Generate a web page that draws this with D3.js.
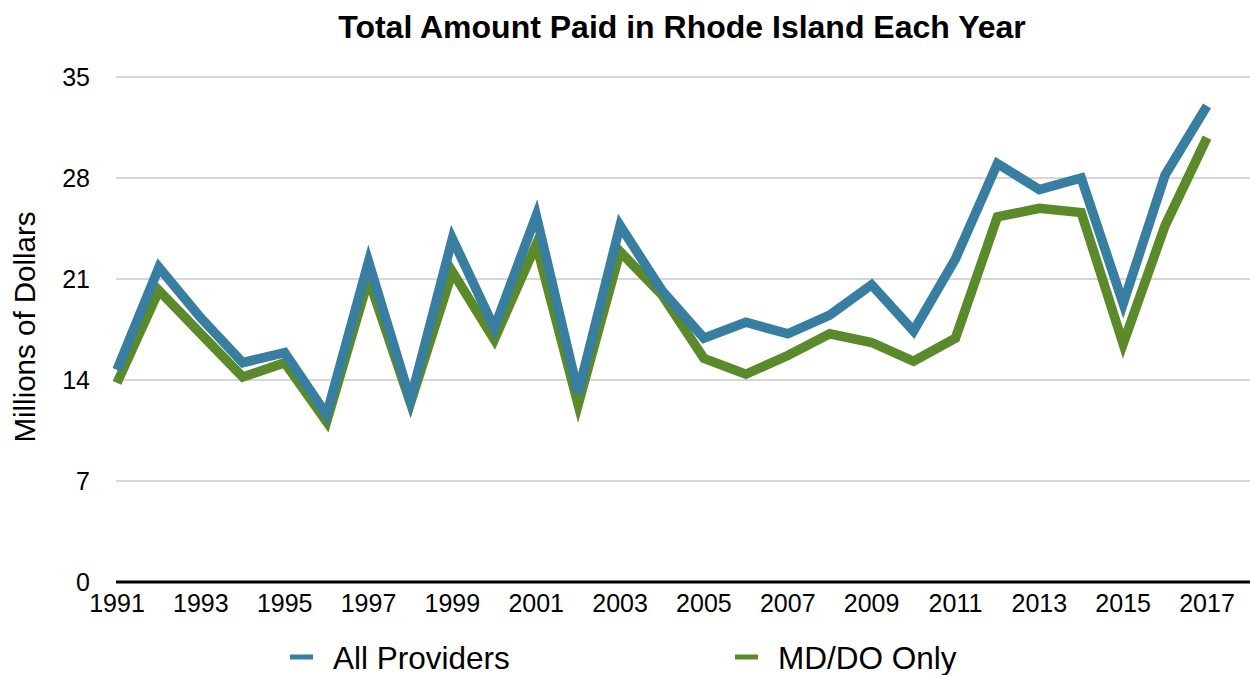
<!DOCTYPE html>
<html><head><meta charset="utf-8">
<script src="https://cdn.jsdelivr.net/npm/d3@7"></script>
<style>body{margin:0;background:#fff}svg{display:block}text{font-family:"Liberation Sans",Arial,Helvetica,sans-serif}</style>
</head><body>
<script>
const years = d3.range(1991, 2018);
const allProviders = [14.7,21.8,18.3,15.2,15.9,11.6,22.2,12.6,23.8,17.6,25.4,13.1,24.7,20.2,16.9,18.0,17.2,18.5,20.6,17.4,22.4,29.0,27.2,28.0,19.3,28.2,33.0];
const mdDoOnly = [13.8,20.2,17.2,14.2,15.2,11.1,21.0,12.4,21.5,16.8,23.4,12.3,22.9,19.9,15.5,14.4,15.7,17.2,16.6,15.3,16.9,25.3,25.9,25.6,16.5,24.7,30.8];
const yTicks = [0,7,14,21,28,35];
const xTickLabels = [1991,1993,1995,1997,1999,2001,2003,2005,2007,2009,2011,2013,2015,2017];
const seriesNames = ["All Providers","MD/DO Only"];
const colors = ["#377ea0","#5a8a2a"];

const W=1250,H=675;
const svg=d3.select("body").append("svg").attr("width",W).attr("height",H);
const x=d3.scaleLinear().domain([1991,2017]).range([117,1207]);
const y=d3.scaleLinear().domain([0,35]).range([582,77]);

// gridlines
svg.append("g").selectAll("line").data(yTicks.filter(d=>d>0)).join("line")
  .attr("x1",116).attr("x2",1250).attr("y1",d=>y(d)).attr("y2",d=>y(d))
  .attr("stroke","#c9c9c9").attr("stroke-width",1.5);
// y labels
svg.append("g").selectAll("text").data(yTicks).join("text")
  .attr("x",90).attr("y",d=>y(d)+9).attr("text-anchor","end")
  .attr("font-size",25).attr("fill","#000").text(d=>d);
// x axis line
svg.append("line").attr("x1",116).attr("x2",1250).attr("y1",y(0)).attr("y2",y(0))
  .attr("stroke","#000").attr("stroke-width",3);
// x labels
svg.append("g").selectAll("text").data(xTickLabels).join("text")
  .attr("x",d=>x(d)).attr("y",612).attr("text-anchor","middle")
  .attr("font-size",25).attr("fill","#000").text(d=>d);

// lines
const line=d3.line().x((d,i)=>x(years[i])).y(d=>y(d));
[mdDoOnly, allProviders].forEach((s,k)=>{
  svg.append("path").datum(s).attr("d",line).attr("fill","none")
    .attr("stroke",k===0?colors[1]:colors[0]).attr("stroke-width",9.5)
    .attr("stroke-linejoin","miter").attr("stroke-miterlimit",4);
});

// title
svg.append("text").attr("x",682).attr("y",38).attr("text-anchor","middle")
  .attr("font-size",32).attr("font-weight","bold").text("Total Amount Paid in Rhode Island Each Year");
// y title
svg.append("text").attr("transform","translate(35,327) rotate(-90)").attr("text-anchor","middle")
  .attr("font-size",29.5).text("Millions of Dollars");

// legend
const legX=[290,735];
seriesNames.forEach((n,i)=>{
  svg.append("line").attr("x1",legX[i]).attr("x2",legX[i]+23).attr("y1",657).attr("y2",657)
    .attr("stroke",colors[i]).attr("stroke-width",5);
  svg.append("text").attr("x",legX[i]+43).attr("y",669).attr("font-size",31.5).text(n);
});
</script>
</body></html>
